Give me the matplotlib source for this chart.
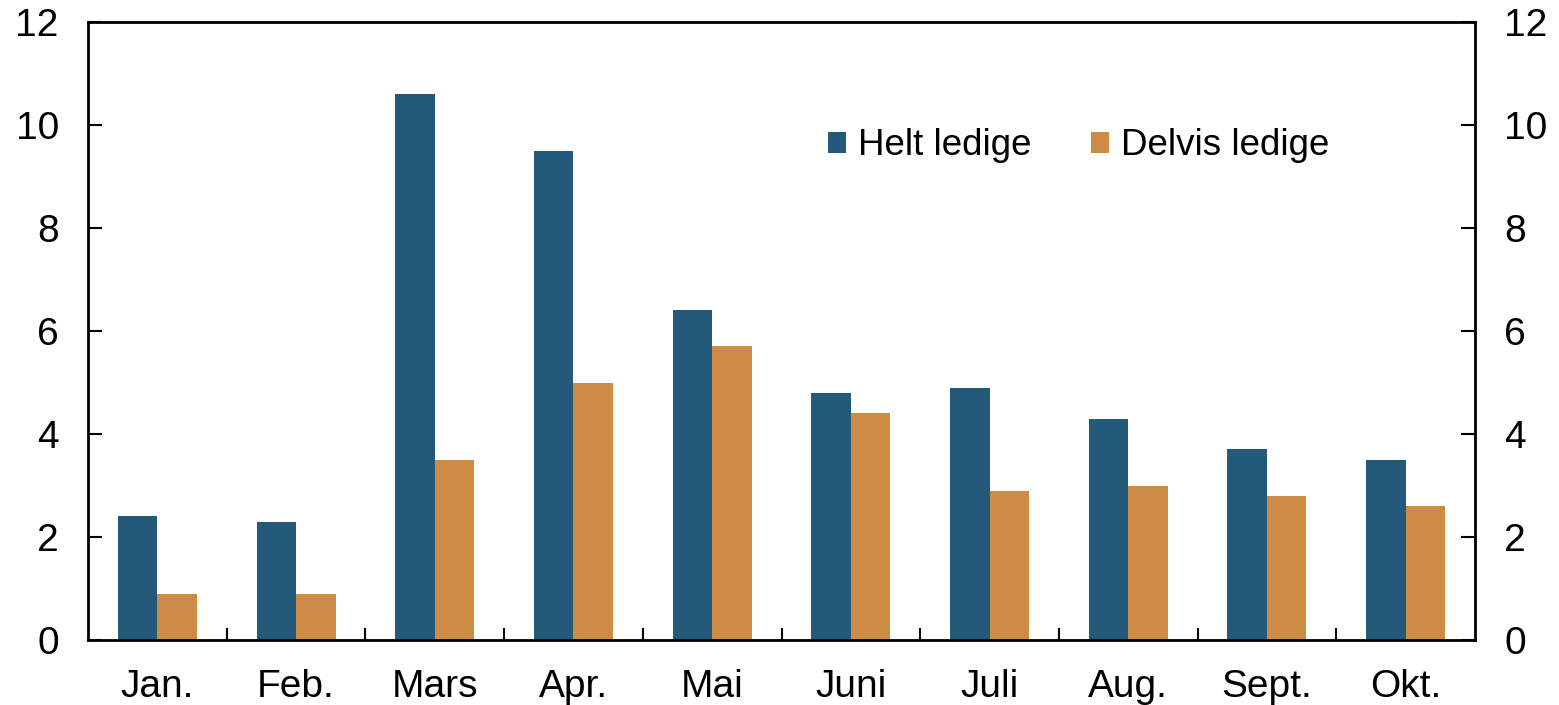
import numpy as np
import matplotlib.pyplot as plt

plt.rcParams['font.family'] = ['Liberation Sans', 'DejaVu Sans']

months = ["Jan.", "Feb.", "Mars", "Apr.", "Mai", "Juni", "Juli", "Aug.", "Sept.", "Okt."]
helt = [2.4, 2.3, 10.6, 9.5, 6.4, 4.8, 4.9, 4.3, 3.7, 3.5]
delvis = [0.9, 0.9, 3.5, 5.0, 5.7, 4.4, 2.9, 3.0, 2.8, 2.6]

blue = "#235a7a"
orange = "#cd8b43"

fig = plt.figure(figsize=(15.59, 7.05), dpi=100)
ax = fig.add_axes([88 / 1559, 65 / 705, (1475 - 88) / 1559, (640 - 22) / 705])

x = np.arange(len(months))
w = 0.285
ax.bar(x - w / 2, helt, w, color=blue, label="Helt ledige")
ax.bar(x + w / 2, delvis, w, color=orange, label="Delvis ledige")

ax.set_xlim(-0.5, len(months) - 0.5)
ax.set_ylim(0, 12)
ax.set_yticks(range(0, 13, 2))
ax.set_xticks(x)
ax.set_xticklabels(months)
ax.set_xticks(np.arange(0.5, len(months) - 0.5, 1), minor=True)
ax.tick_params(axis='x', which='major', length=0, pad=21, labelsize=28)
ax.tick_params(axis='x', which='minor', direction='in', length=9, width=1.5)
ax.tick_params(axis='y', direction='in', length=10, width=1.5, labelsize=28,
               pad=21, right=True, labelright=True)
for s in ax.spines.values():
    s.set_linewidth(2)

ax.legend(loc='center left', bbox_to_anchor=(0.5335, 0.80), ncol=2, frameon=False,
          fontsize=26.5, handlelength=0.5, handleheight=0.5, handletextpad=0.32,
          columnspacing=1.6, borderpad=0, borderaxespad=0)

fig.savefig("out.png", dpi=100)
